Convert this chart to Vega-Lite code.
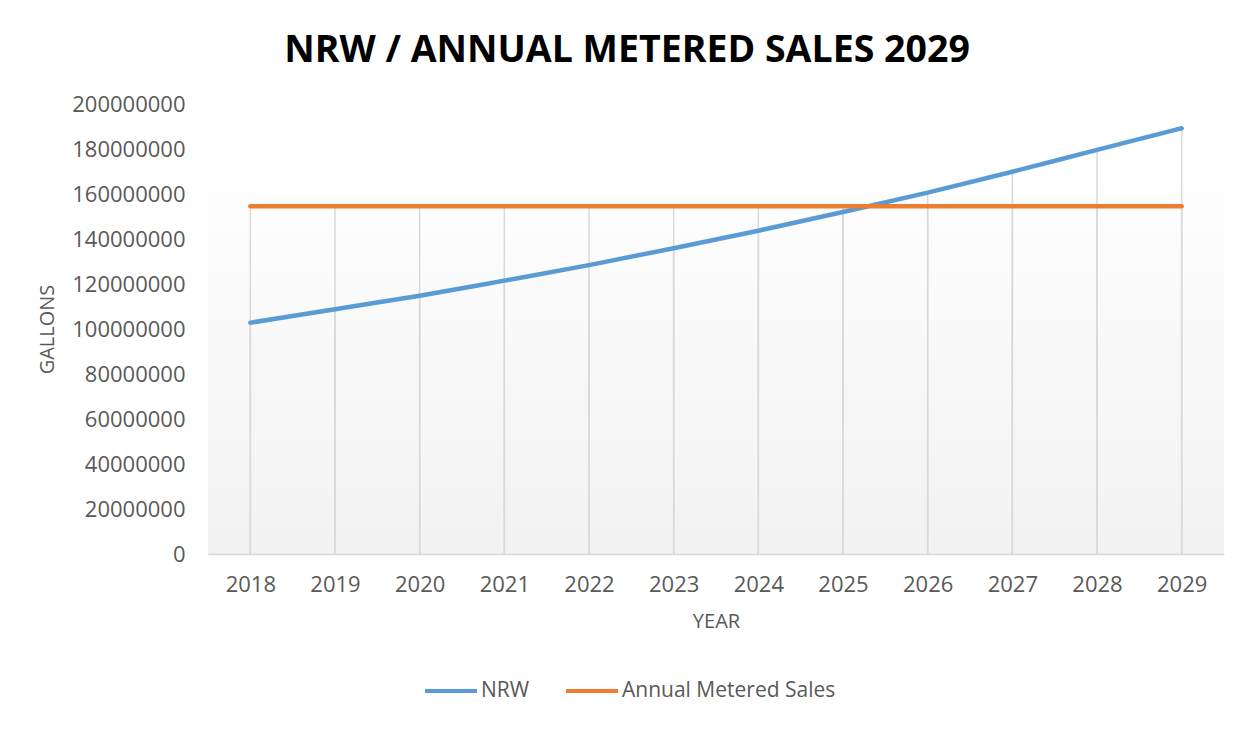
{
  "$schema": "https://vega.github.io/schema/vega-lite/v6.json",
  "width": 1016,
  "height": 450,
  "autosize": {"type": "none"},
  "padding": {"left": 208, "top": 104, "right": 29, "bottom": 177},
  "background": "white",
  "title": {
    "text": "NRW / ANNUAL METERED SALES 2029",
    "font": "Open Sans",
    "fontSize": 37.5,
    "fontWeight": "bold",
    "color": "#000000",
    "anchor": "middle",
    "frame": "group",
    "dx": -89,
    "dy": 47,
    "offset": 41,
    "baseline": "alphabetic"
  },
  "config": {
    "font": "Open Sans",
    "view": {
      "stroke": null,
      "fill": {
        "gradient": "linear",
        "x1": 0, "y1": 0, "x2": 0, "y2": 1,
        "stops": [
          {"offset": 0, "color": "#ffffff"},
          {"offset": 0.12, "color": "#ffffff"},
          {"offset": 1, "color": "#f2f2f2"}
        ]
      }
    },
    "axis": {
      "labelColor": "#595959",
      "titleColor": "#595959",
      "labelFont": "Open Sans",
      "titleFont": "Open Sans",
      "labelFontSize": 22,
      "titleFontSize": 20,
      "titleFontWeight": "normal",
      "ticks": false,
      "grid": false
    }
  },
  "data": {
    "values": [
      {"year": "2018", "series": "NRW", "value": 102800000},
      {"year": "2019", "series": "NRW", "value": 108800000},
      {"year": "2020", "series": "NRW", "value": 114800000},
      {"year": "2021", "series": "NRW", "value": 121500000},
      {"year": "2022", "series": "NRW", "value": 128400000},
      {"year": "2023", "series": "NRW", "value": 135900000},
      {"year": "2024", "series": "NRW", "value": 143700000},
      {"year": "2025", "series": "NRW", "value": 152000000},
      {"year": "2026", "series": "NRW", "value": 160600000},
      {"year": "2027", "series": "NRW", "value": 169900000},
      {"year": "2028", "series": "NRW", "value": 179600000},
      {"year": "2029", "series": "NRW", "value": 189200000},
      {"year": "2018", "series": "Annual Metered Sales", "value": 154600000},
      {"year": "2019", "series": "Annual Metered Sales", "value": 154600000},
      {"year": "2020", "series": "Annual Metered Sales", "value": 154600000},
      {"year": "2021", "series": "Annual Metered Sales", "value": 154600000},
      {"year": "2022", "series": "Annual Metered Sales", "value": 154600000},
      {"year": "2023", "series": "Annual Metered Sales", "value": 154600000},
      {"year": "2024", "series": "Annual Metered Sales", "value": 154600000},
      {"year": "2025", "series": "Annual Metered Sales", "value": 154600000},
      {"year": "2026", "series": "Annual Metered Sales", "value": 154600000},
      {"year": "2027", "series": "Annual Metered Sales", "value": 154600000},
      {"year": "2028", "series": "Annual Metered Sales", "value": 154600000},
      {"year": "2029", "series": "Annual Metered Sales", "value": 154600000}
    ]
  },
  "encoding": {
    "x": {
      "field": "year",
      "type": "ordinal",
      "scale": {"type": "point", "padding": 0.5},
      "axis": {
        "title": "YEAR",
        "labelAngle": 0,
        "labelPadding": 20,
        "titlePadding": 16,
        "domain": true,
        "domainColor": "#d9d9d9",
        "domainWidth": 1.5
      }
    }
  },
  "layer": [
    {
      "mark": {"type": "rule", "color": "#d9d9d9", "strokeWidth": 1.5},
      "encoding": {
        "y": {"field": "value", "type": "quantitative"},
        "y2": {"datum": 0}
      }
    },
    {
      "mark": {"type": "line", "strokeWidth": 4.5, "interpolate": "monotone", "strokeCap": "round"},
      "encoding": {
        "y": {
          "field": "value",
          "type": "quantitative",
          "scale": {"domain": [0, 200000000], "nice": false},
          "axis": {
            "title": "GALLONS",
            "values": [0, 20000000, 40000000, 60000000, 80000000, 100000000, 120000000, 140000000, 160000000, 180000000, 200000000],
            "format": "d",
            "domain": false,
            "labelPadding": 23,
            "titlePadding": 14
          }
        },
        "color": {
          "field": "series",
          "type": "nominal",
          "sort": ["NRW", "Annual Metered Sales"],
          "scale": {"domain": ["NRW", "Annual Metered Sales"], "range": ["#5b9bd5", "#ed7d31"]},
          "legend": {
            "title": null,
            "orient": "none",
            "direction": "horizontal",
            "legendX": 215,
            "legendY": 559,
            "symbolType": "stroke",
            "symbolSize": 2704,
            "symbolStrokeWidth": 4,
            "labelFontSize": 21,
            "labelLimit": 400,
            "labelColor": "#595959",
            "labelFont": "Open Sans",
            "labelOffset": 2,
            "columnPadding": 28
          }
        }
      }
    }
  ]
}
